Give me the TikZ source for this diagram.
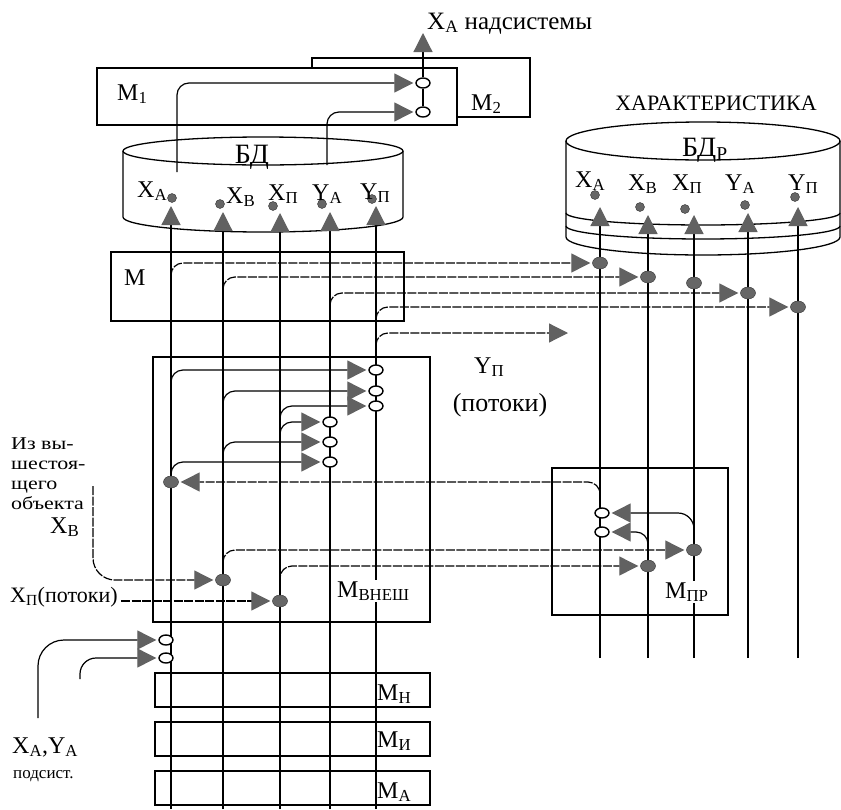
\documentclass[tikz,border=0pt]{standalone}
\usepackage{fontspec}
\setmainfont{Liberation Serif}
\newfontfamily\widefont[FakeStretch=1.22]{Liberation Serif}
\usetikzlibrary{arrows.meta,positioning,calc,shapes.geometric}
\tikzset{
  box/.style   ={draw,line width=1.3pt},
  vline/.style ={line width=1.2pt},
  ring/.style  ={ellipse,draw,line width=1.4pt,fill=white,minimum width=14pt,minimum height=10pt,inner sep=0pt},
  blob/.style  ={ellipse,draw=black!80,fill=black!60,minimum width=15pt,minimum height=12pt,inner sep=0pt},
  pin/.style   ={circle,draw=black!80,fill=black!60,minimum size=9pt,inner sep=0pt},
  upin/.style  ={vline,-{Triangle[length=19pt,width=19pt,color=black!62]}},
  feed/.style  ={vline,rounded corners=12pt,shorten >=2pt,-{Triangle[length=19pt,width=19pt,color=black!62]}},
  flow/.style  ={feed,dash pattern=on 9pt off 1.5pt},
  lbl/.style   ={font=\fontsize{24}{24}\selectfont,inner sep=0pt},
  side/.style  ={font=\fontsize{22}{22}\selectfont,inner sep=0pt},
  small/.style ={font=\fontsize{17}{17}\selectfont,inner sep=0pt},
}
\setlength{\lineskiplimit}{-20pt}
\newcommand{\sbs}[2]{#1\textsubscript{#2}}

\begin{document}
\begin{tikzpicture}[x=1pt,y=-1pt]
  \useasboundingbox (0,0) rectangle (841,809);
  % TOP: models M1, M2 and the data bases
  \draw[box] (312,68) |- (530,58) |- (457,117);
  \draw[box,fill=white] (97,68) rectangle (457,125);
  \draw[box] (123,151) -- (123,217) arc[start angle=180,end angle=360,x radius=140pt,y radius=15pt] -- (403,151);
  \draw[box] (263,151) ellipse[x radius=140pt,y radius=14pt];
  \draw[box] (566,141) -- (566,237) arc[start angle=180,end angle=360,x radius=137pt,y radius=18pt] -- (840,141);
  \draw[box] (703,141) ellipse[x radius=137pt,y radius=19pt];
  \foreach \y/\r in {213/12,226/13}
    \draw[box] (566,\y) arc[start angle=180,end angle=360,x radius=137pt,y radius=\r pt];
  % module boxes
  \draw[box] (111,252) rectangle (404,321);
  \draw[box] (153,357) rectangle (430,622);
  \draw[box] (552,468) rectangle (728,615);
  \foreach \y in {673,722,771}
    \draw[box] (155,\y) rectangle ++(275,34);
  % columns of the data bases
  \foreach \n/\x/\t in {lA/171/206,lB/223/212,lP/280/213,lYA/330/212,lYP/376/206}{
    \coordinate (\n) at (\x,\t);
    \draw[upin] (\x,809) -- (\n);}
  \foreach \n/\x/\t in {rA/600/207,rB/648/215,rP/694/215,rYA/748/213,rYP/798/207}{
    \coordinate (\n) at (\x,\t);
    \draw[upin] (\x,658) -- (\n);}
  \foreach \n/\x/\y in {pA/172/198,pB/220/204,pP/273/206,pYA/322/204,pYP/372/199}
    \node[pin] (\n) at (\x,\y) {};
  \foreach \n/\x/\y in {qA/595/195,qB/640/207,qP/685/209,qYA/745/205,qYP/795/197}
    \node[pin] (\n) at (\x,\y) {};
  % output to the supersystem
  \node[ring] (t1) at (423,83) {};
  \node[ring] (t2) at (423,112) {};
  \coordinate (upOut) at (423,33);
  \coordinate (srcA) at (177,172);
  \coordinate (srcY) at (327,165);
  \draw[feed] (srcA) |- (t1);
  \draw[feed] (srcY) |- (t2);
  \draw[vline] (t2) -- (t1);
  \draw[upin] (t1) -- (upOut);
  % M: rows into the characteristic base
  \node[blob] (dA) at (600,263) {};
  \node[blob] (dB) at (648,277) {};
  \node[blob] (dP) at (694,283) {};
  \node[blob] (dYA) at (748,293) {};
  \node[blob] (dYP) at (798,307) {};
  \coordinate (ypOut) at (568,333);
  \draw[flow] (lA |- 0,277) |- (dA);
  \draw[flow] (lB |- 0,289) |- (dB);
  \draw[flow] (lYA |- 0,305) |- (dYA);
  \draw[flow] (lYP |- 0,320) |- (dYP);
  \draw[flow,shorten >=0pt] (lYP |- 0,346) |- (ypOut);
  % M_vnesh: inner rows
  \foreach \n/\x/\y in {e1/376/370,e2/376/391,e3/376/406,e4/330/422,e5/330/442,e6/330/462}
    \node[ring] (\n) at (\x,\y) {};
  \draw[feed] (lA |- 0,384) |- (e1);
  \draw[feed] (lB |- 0,404) |- (e2);
  \draw[feed] (lP |- 0,419) |- (e3);
  \draw[feed] (lP |- 0,436) |- (e4);
  \draw[feed] (lB |- 0,456) |- (e5);
  \draw[feed] (lA |- 0,475) |- (e6);
  \node[blob] (d1) at (171,482) {};
  \draw[flow] (rA |- 0,501) |- (d1);
  % external inputs and M_pr
  \node[blob] (d2) at (223,580) {};
  \node[blob] (d3) at (280,601) {};
  \coordinate (xbSrc) at (93,486);
  \coordinate (xpSrc) at (121,601);
  \draw[flow,rounded corners=22pt] (xbSrc) |- (d2);
  \draw[flow] (xpSrc) -- (d3);
  \node[blob] (g1) at (694,550) {};
  \node[blob] (g2) at (648,566) {};
  \draw[flow] (d2.north) |- (g1);
  \draw[flow] (d3.north) |- (g2);
  \node[ring] (o1) at (602,513) {};
  \node[ring] (o2) at (602,532) {};
  \draw[feed,rounded corners=16pt] (g1.north) |- (o1);
  \draw[feed] (g2.north) |- (o2);
  % inputs from subsystems
  \node[ring] (q1) at (166,640) {};
  \node[ring] (q2) at (166,658) {};
  \coordinate (subA) at (38,718);
  \coordinate (subY) at (80,679);
  \draw[feed,rounded corners=26pt] (subA) |- (q1);
  \draw[feed,rounded corners=16pt] (subY) |- (q2);
  % labels
  \node[lbl,anchor=base west,font=\fontsize{25}{25}\selectfont] (supLbl) at (427,29) {\sbs{X}{A}\ надсистемы};
  \node[lbl,anchor=base west] (m1Lbl) at (117,100) {M\textsubscript{1}};
  \node[lbl,anchor=base west] (m2Lbl) at (471,110) {M\textsubscript{2}};
  \node[lbl,anchor=base,font=\fontsize{28}{28}\selectfont] (bdLbl) at (252,163) {БД};
  \node[lbl,anchor=base west,font=\fontsize{28}{28}\selectfont] (bdrLbl) at (682,156) {БД\textsubscript{Р}};
  \node[lbl,anchor=base,font=\fontsize{22}{22}\selectfont] (charLbl) at (716,110) {ХАРАКТЕРИСТИКА};
  \foreach \n/\x/\y/\t in {lxA/137/197/{\sbs{X}{A}},lxB/226/203/{\sbs{X}{B}},lxP/268/200/{\sbs{X}{П}},
                           lyA/312/200/{\sbs{Y}{A}},lyP/360/199/{\sbs{Y}{П}},
                           rxA/575/187/{\sbs{X}{A}},rxB/628/190/{\sbs{X}{B}},rxP/672/190/{\sbs{X}{П}},
                           ryA/725/190/{\sbs{Y}{A}},ryP/788/190/{\sbs{Y}{П}}}
    \node[lbl,anchor=base west] (\n) at (\x,\y) {\t};
  \node[lbl,anchor=base west] (mLbl) at (124,285) {M};
  \node[lbl,anchor=base west] (ypLbl) at (474,373) {\sbs{Y}{П}};
  \node[lbl,anchor=base,font=\fontsize{26}{26}\selectfont] (flowLbl) at (500,411) {(потоки)};
  \foreach \t [count=\i] in {Из вы-,шестоя-,щего,объекта}
    \node[anchor=base west,inner sep=0pt,font=\widefont\fontsize{18}{18}\selectfont] (src\i) at (11,{429+20*\i}) {\t};
  \node[lbl,anchor=base west] (xbLbl) at (50,533) {\sbs{X}{B}};
  \node[side,anchor=base west] (xpLbl) at (10,602) {\sbs{X}{П}(потоки)};
  \node[lbl,anchor=base west,fill=white,inner sep=1pt] (mextLbl) at (336,597) {M\textsubscript{ВНЕШ}};
  \node[lbl,anchor=base west,fill=white,inner sep=1pt] (mprLbl) at (664,598) {M\textsubscript{ПР}};
  \foreach \n/\y/\t in {mnLbl/700/Н,miLbl/747/И,maLbl/798/А}
    \node[lbl,anchor=base west] (\n) at (377,\y) {M\textsubscript{\t}};
  \node[lbl,anchor=base west] (subLbl) at (12,753) {\sbs{X}{A},\sbs{Y}{A}};
  \node[small,anchor=base west] (subLbl2) at (13,778) {подсист.};
\end{tikzpicture}
\end{document}
